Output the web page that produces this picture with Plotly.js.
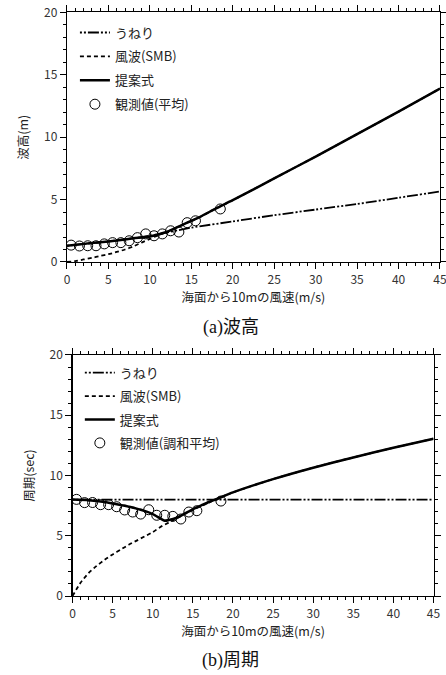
<!DOCTYPE html>
<html>
<head>
<meta charset="utf-8">
<script src="https://cdn.plot.ly/plotly-3.0.1.min.js"></script>
<style>html,body{margin:0;padding:0;background:#fff;}#chart{width:446px;height:675px;}</style>
</head>
<body>
<div id="chart"></div>
<script>
// ---- data: (a) wave height ----
const hSwellX = [0, 5, 10, 15, 20, 25, 30, 35, 40, 45];
const hSwellY = [1.3, 1.65, 2.1, 2.75, 3.25, 3.75, 4.2, 4.65, 5.15, 5.65];
const hSmbX = [0, 1, 2, 3, 4, 5, 6, 7, 8, 9, 10, 11, 12, 14, 16, 18, 20, 25, 30, 35, 40, 45];
const hSmbY = [0, 0.07, 0.2, 0.33, 0.48, 0.62, 0.8, 1.0, 1.25, 1.55, 1.85, 2.15, 2.4, 3.0, 3.6, 4.3, 4.95, 6.7, 8.45, 10.25, 12.05, 13.9];
const hPropX = [0, 2, 4, 6, 8, 10, 12, 14, 16, 18, 20, 25, 30, 35, 40, 45];
const hPropY = [1.3, 1.45, 1.58, 1.72, 1.9, 2.05, 2.4, 3.0, 3.6, 4.3, 4.95, 6.7, 8.45, 10.25, 12.05, 13.9];
const hObsX = [0.5, 1.5, 2.5, 3.5, 4.5, 5.5, 6.5, 7.5, 8.5, 9.5, 10.5, 11.5, 12.5, 13.5, 14.5, 15.5, 18.5];
const hObsY = [1.35, 1.28, 1.3, 1.3, 1.45, 1.55, 1.55, 1.7, 1.95, 2.25, 2.1, 2.25, 2.5, 2.4, 3.15, 3.3, 4.25];

// ---- data: (b) period ----
const tSwellX = [0, 45];
const tSwellY = [8.0, 8.0];
const tSmbX = [0, 1, 2, 3, 4, 5, 6, 7, 8, 9, 10, 11, 12, 13, 14, 15, 16, 17, 18, 20, 25, 30, 35, 40, 45];
const tSmbY = [0, 1.1, 1.9, 2.5, 3.0, 3.45, 3.85, 4.25, 4.6, 4.95, 5.3, 5.75, 6.1, 6.45, 6.8, 7.15, 7.45, 7.75, 8.05, 8.6, 9.7, 10.65, 11.5, 12.3, 13.05];
const tPropX = [0, 2, 4, 6, 8, 10, 11.5, 12, 13, 14, 15, 16, 17, 18, 20, 25, 30, 35, 40, 45];
const tPropY = [8.0, 7.95, 7.8, 7.55, 7.25, 6.8, 6.25, 6.3, 6.5, 6.85, 7.2, 7.5, 7.8, 8.05, 8.6, 9.7, 10.65, 11.5, 12.3, 13.05];
const tObsX = [0.5, 1.5, 2.5, 3.5, 4.5, 5.5, 6.5, 7.5, 8.5, 9.5, 10.5, 11.5, 12.5, 13.5, 14.5, 15.5, 18.5];
const tObsY = [8.02, 7.75, 7.76, 7.58, 7.58, 7.41, 7.14, 6.97, 6.8, 7.16, 6.7, 6.7, 6.61, 6.39, 6.97, 7.08, 7.88];

const nameSwell = 'うねり';
const nameSmb = '風波(SMB)';
const nameProp = '提案式';
const nameObsH = '観測値(平均)';
const nameObsT = '観測値(調和平均)';
const xTitle = '海面から10mの風速(m/s)';

const JP = '"Noto Sans CJK JP", sans-serif';
const CAP = '"Liberation Serif", "Noto Sans CJK JP", serif';
const swellDash = '2px,2px,2px,2px,11px,2px';
const smbDash = '4px,3px';

function traces(xa, ya, leg, sx, sy, wx, wy, px, py, ox, oy, obsName) {
  return [
    {x: sx, y: sy, xaxis: xa, yaxis: ya, legend: leg, name: nameSwell, legendgroup: leg + 'a', mode: 'lines',
     line: {color: '#000', width: 1.8, dash: swellDash, shape: 'spline', smoothing: 0.6}},
    {x: wx, y: wy, xaxis: xa, yaxis: ya, legend: leg, name: nameSmb, legendgroup: leg + 'b', mode: 'lines',
     line: {color: '#000', width: 1.8, dash: smbDash, shape: 'spline', smoothing: 0.6}},
    {x: px, y: py, xaxis: xa, yaxis: ya, legend: leg, name: nameProp, legendgroup: leg + 'c', mode: 'lines',
     line: {color: '#000', width: 2.5, shape: 'spline', smoothing: 0.6}},
    {x: ox, y: oy, xaxis: xa, yaxis: ya, legend: leg, name: obsName, legendgroup: leg + 'd', mode: 'markers',
     marker: {symbol: 'circle-open', size: 10, color: '#000', line: {width: 1, color: '#000'}}}
  ];
}

const data = [].concat(
  traces('x', 'y', 'legend', hSwellX, hSwellY, hSmbX, hSmbY, hPropX, hPropY, hObsX, hObsY, nameObsH),
  traces('x2', 'y2', 'legend2', tSwellX, tSwellY, tSmbX, tSmbY, tPropX, tPropY, tObsX, tObsY, nameObsT)
);

function xax(domain, anchor) {
  return {domain: domain, anchor: anchor, range: [0, 45], dtick: 5, tick0: 0,
    showline: true, linecolor: '#000', linewidth: 1.2, mirror: 'ticks',
    ticks: 'outside', ticklen: 6, tickwidth: 1, tickcolor: '#000',
    minor: {dtick: 1, ticks: 'outside', ticklen: 3, tickcolor: '#000', tickwidth: 1},
    showgrid: false, zeroline: false, ticklabeloverflow: 'allow',
    tickfont: {family: JP, size: 12, color: '#333'},
    title: {text: xTitle, font: {family: JP, size: 12.5, color: '#222'}, standoff: 4}};
}
function yax(domain, anchor, title) {
  return {domain: domain, anchor: anchor, range: [0, 20], dtick: 5, tick0: 0,
    showline: true, linecolor: '#000', linewidth: 1.2, mirror: 'ticks',
    ticks: 'outside', ticklen: 6, tickwidth: 1, tickcolor: '#000',
    minor: {dtick: 1, ticks: 'outside', ticklen: 3, tickcolor: '#000', tickwidth: 1},
    showgrid: false, zeroline: false, ticklabeloverflow: 'allow',
    tickfont: {family: JP, size: 12, color: '#333'},
    title: {text: title, font: {family: JP, size: 12.5, color: '#222'}, standoff: 12}};
}

const layout = {
  width: 446, height: 675,
  margin: {l: 0, r: 0, t: 0, b: 0},
  paper_bgcolor: '#fff', plot_bgcolor: '#fff',
  showlegend: true,
  xaxis: xax([0.1502, 0.9865], 'y'),
  yaxis: yax([0.6119, 0.9815], 'x', '波高(m)'),
  xaxis2: xax([0.1626, 0.9720], 'y2'),
  yaxis2: yax([0.1170, 0.4741], 'x2', '周期(sec)'),
  legend: {x: 0.168, y: 0.974, xanchor: 'left', yanchor: 'top', bgcolor: 'rgba(0,0,0,0)',
    font: {family: JP, size: 13, color: '#222'}, traceorder: 'grouped', tracegroupgap: 4, itemclick: false},
  legend2: {x: 0.179, y: 0.470, xanchor: 'left', yanchor: 'top', bgcolor: 'rgba(0,0,0,0)',
    font: {family: JP, size: 13, color: '#222'}, traceorder: 'grouped', tracegroupgap: 3.5, itemclick: false},
  annotations: [
    {text: '(a)波高', xref: 'paper', yref: 'paper', x: 0.517, y: 1 - 327 / 675, xanchor: 'center', yanchor: 'middle',
     showarrow: false, font: {family: CAP, size: 18, color: '#111'}},
    {text: '(b)周期', xref: 'paper', yref: 'paper', x: 0.517, y: 1 - 660 / 675, xanchor: 'center', yanchor: 'middle',
     showarrow: false, font: {family: CAP, size: 18, color: '#111'}}
  ]
};

Plotly.newPlot('chart', data, layout, {displayModeBar: false, staticPlot: true});
</script>
</body>
</html>
